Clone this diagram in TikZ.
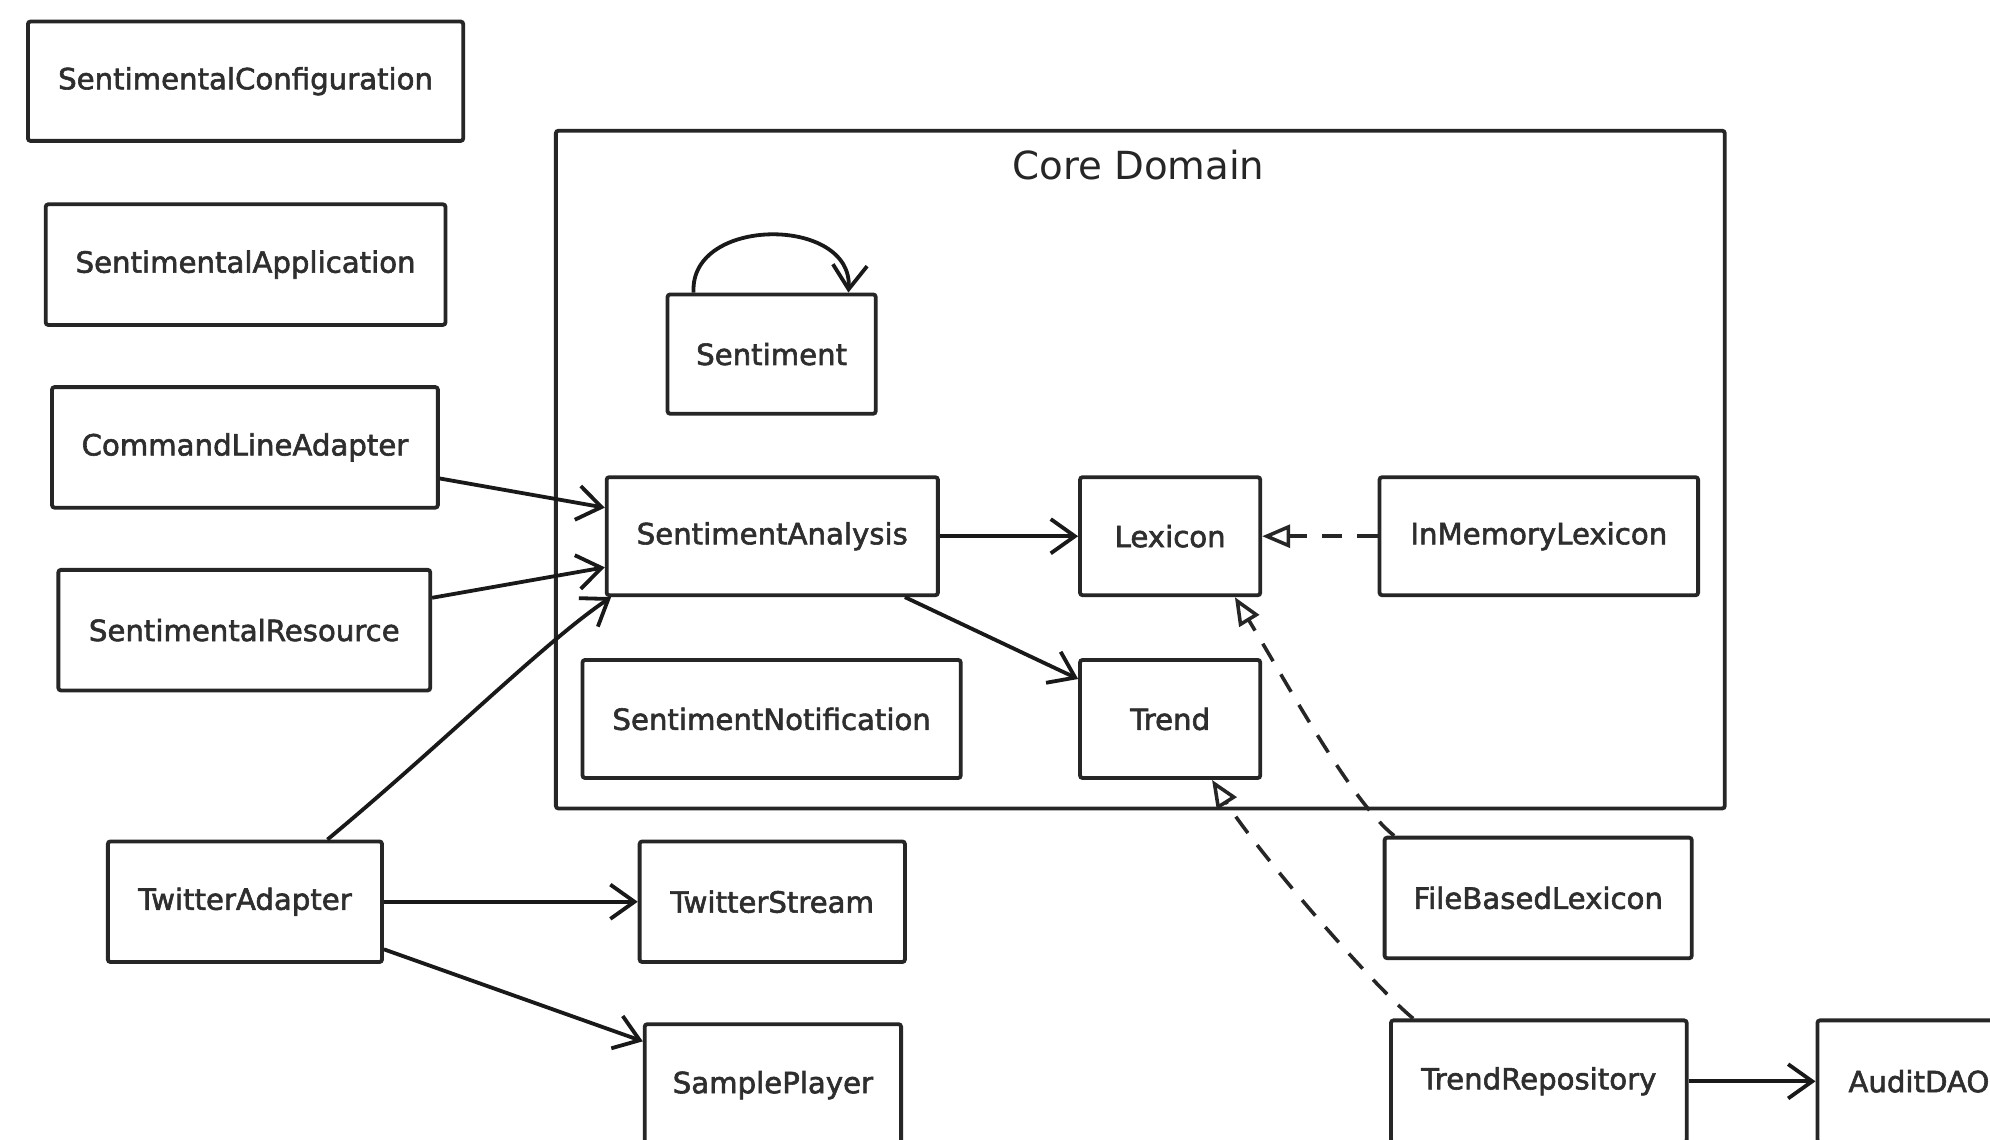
\documentclass[tikz,border=0pt]{standalone}
\usepackage{fontspec}
\setmainfont{DejaVu Sans}
\newfontfamily\classfont[FakeBold=2]{DejaVu Sans}
\usetikzlibrary{arrows.meta,calc}
\begin{document}
\begin{tikzpicture}[x=1pt,y=-1pt,
  cls/.style={draw=black!85, line width=3pt, rounded corners=2pt, inner sep=0pt,
    align=center, font=\classfont\fontsize{23}{28}\selectfont, text=black!82},
  assoc/.style={line width=3pt, draw=black!90,
    -{Straight Barb[length=19pt,width=27pt,line width=3pt]}},
  realize/.style={line width=2.8pt, draw=black!85, dash pattern=on 16pt off 12pt,
    -{Triangle[open,length=22pt,width=18pt,line width=2.8pt,fill=white]}}
]
\path[use as bounding box, fill=white] (0,0) rectangle (1568,898);
\clip (0,0) rectangle (1568,898);

% bounded context frame
\node[draw=black!85, line width=3pt, rounded corners=2pt, minimum width=921pt,
  minimum height=534pt, inner sep=0pt] (core) at (898.5,370) {};
\node[font=\fontsize{30.5}{36}\selectfont, text=black!85] (coretitle) at (897,130) {Core Domain};

% classes outside the core domain
\node[cls, minimum width=343pt, minimum height=94pt] (conf) at (193.5,64) {SentimentalConfiguration};
\node[cls, minimum width=315pt, minimum height=95pt] (app) at (193.5,208.5) {SentimentalApplication};
\node[cls, minimum width=304pt, minimum height=95pt] (cla) at (193,352.5) {CommandLineAdapter};
\node[cls, minimum width=293pt, minimum height=95pt] (res) at (192.5,496.5) {SentimentalResource};
\node[cls, minimum width=216pt, minimum height=95pt] (twa) at (193,710.5) {TwitterAdapter};
\node[cls, minimum width=209pt, minimum height=95pt] (tws) at (608.5,710.5) {TwitterStream};
\node[cls, minimum width=202pt, minimum height=96pt] (sp) at (609,855) {SamplePlayer};
\node[cls, minimum width=242pt, minimum height=95pt] (fbl) at (1212,707.5) {FileBasedLexicon};
\node[cls, minimum width=233pt, minimum height=96pt] (tr) at (1212.5,852) {TrendRepository};
\node[cls, minimum width=160pt, minimum height=96pt] (audit) at (1512,852) {AuditDAO};

% classes inside the core domain
\node[cls, minimum width=164pt, minimum height=94pt] (sent) at (608,279) {Sentiment};
\node[cls, minimum width=261pt, minimum height=93pt] (sa) at (608.5,422.5) {SentimentAnalysis};
\node[cls, minimum width=142pt, minimum height=93pt] (lex) at (922,422.5) {Lexicon};
\node[cls, minimum width=251pt, minimum height=93pt] (iml) at (1212.5,422.5) {InMemoryLexicon};
\node[cls, minimum width=298pt, minimum height=93pt] (notif) at (608,566.5) {SentimentNotification};
\node[cls, minimum width=142pt, minimum height=93pt] (trend) at (922,566.5) {Trend};

% associations
\draw[assoc] ($(sent.north west)+(22,0)$) .. controls (543,170) and (672,170) .. ($(sent.north east)+(-23,0)$);
\draw[assoc] ($(cla.east)+(0,24.5)$) -- ($(sa.west)+(0,-22.5)$);
\draw[assoc] ($(res.east)+(0,-25.5)$) -- ($(sa.west)+(0,24.5)$);
\draw[assoc] ($(twa.north)+(65,0)$) .. controls (350,585) and (430,505) .. ($(sa.south west)+(5,0)$);
\draw[assoc] (sa.east) -- (lex.west);
\draw[assoc] ($(sa.south)+(104.5,0)$) -- ($(trend.west)+(0,-31.5)$);
\draw[assoc] (twa.east) -- (tws.west);
\draw[assoc] ($(twa.east)+(0,37.5)$) -- ($(sp.north west)+(0,15)$);
\draw[assoc] (tr.east) -- (audit.west);

% realizations
\draw[realize] (iml.west) -- (lex.east);
\draw[realize] ($(fbl.north west)+(9,0)$) .. controls (1065,632) and (1015,540) .. ($(lex.south)+(51,0)$);
\draw[realize] ($(tr.north west)+(19,0)$) .. controls (1080,775) and (990,670) .. ($(trend.south)+(33,0)$);
\end{tikzpicture}
\end{document}
